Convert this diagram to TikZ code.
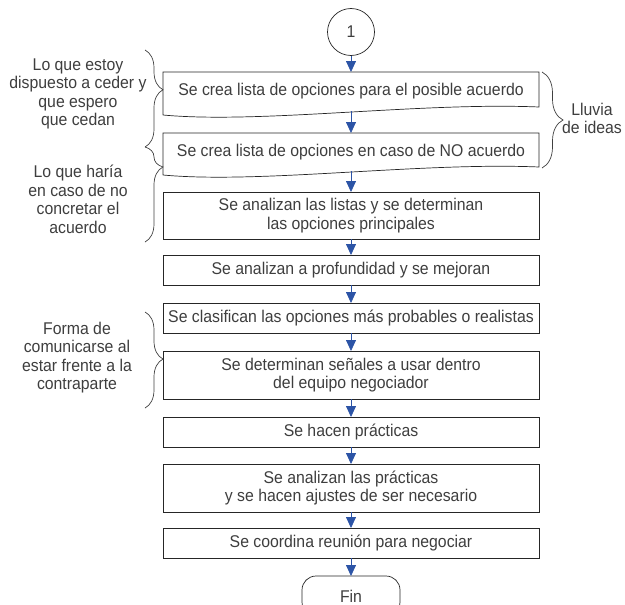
\documentclass[tikz,border=0pt]{standalone}
\usepackage{fontspec}
\setmainfont{Liberation Sans}[FakeStretch=0.93]
\usetikzlibrary{positioning, arrows.meta, decorations.pathreplacing}
\definecolor{flowblue}{RGB}{44,84,166}
\definecolor{txtgray}{RGB}{62,62,62}
\tikzstyle{process} = [rectangle, minimum width=376pt, minimum height=30pt, inner sep=1pt, outer sep=0pt, text centered, draw=black!85, line width=0.7pt, text=txtgray, font=\fontsize{17}{18.5}\selectfont]
\tikzstyle{listbox} = [process, draw=none, minimum height=39pt]
\tikzstyle{connector} = [circle, minimum size=47pt, inner sep=0pt, outer sep=0pt, draw=black!85, line width=0.7pt, text=txtgray, font=\fontsize{17}{18.5}\selectfont]
\tikzstyle{terminal} = [rectangle, rounded corners=14pt, minimum width=98pt, minimum height=40pt, inner sep=1pt, outer sep=0pt, draw=black!85, line width=0.7pt, text=txtgray, font=\fontsize{17}{18.5}\selectfont]
\tikzstyle{note} = [align=center, inner sep=0pt, text=txtgray, font=\fontsize{17}{18.5}\selectfont]
\tikzstyle{arrow} = [draw=flowblue, line width=0.8pt, -{Triangle[width=10pt,length=11pt]}]
\tikzstyle{bracket} = [decorate, draw=black!75, line width=0.7pt]

\begin{document}
\begin{tikzpicture}
[x=1pt, y=-1pt, node distance=17pt, nodes = {align = center},]
\useasboundingbox (0,0) rectangle (625,605);

\node (one) [connector] at (351,32) {1};
\node (list1) [listbox, below=16.5pt of one] {Se crea lista de opciones para el posible acuerdo};
\node (list2) [listbox, below=22pt of list1, minimum height=38pt] {Se crea lista de opciones en caso de NO acuerdo};
\node (analyze) [process, below=21pt of list2, minimum height=47pt] {Se analizan las listas y se determinan\\las opciones principales};
\node (improve) [process, below=16pt of analyze] {Se analizan a profundidad y se mejoran};
\node (classify) [process, below=18pt of improve] {Se clasifican las opciones más probables o realistas};
\node (signals) [process, below=18pt of classify, minimum height=48pt] {Se determinan señales a usar dentro\\del equipo negociador};
\node (practice) [process, below=18pt of signals] {Se hacen prácticas};
\node (adjust) [process, below=17pt of practice, minimum height=48pt] {Se analizan las prácticas\\y se hacen ajustes de ser necesario};
\node (meeting) [process, below=16pt of adjust] {Se coordina reunión para negociar};
\node (fin) [terminal, below=18pt of meeting] {Fin};

\draw [draw=black!85, line width=0.7pt] ([shift={(0,4)}]list1.south west) -- (list1.north west) -- (list1.north east) -- ([shift={(0,-4)}]list1.south east) .. controls ([shift={(69,-9)}]list1.south) and ([shift={(-91,13)}]list1.south) .. ([shift={(0,4)}]list1.south west);
\draw [draw=black!85, line width=0.7pt] ([shift={(0,4)}]list2.south west) -- (list2.north west) -- (list2.north east) -- ([shift={(0,-4)}]list2.south east) .. controls ([shift={(69,-9)}]list2.south) and ([shift={(-91,13)}]list2.south) .. ([shift={(0,4)}]list2.south west);

\draw [arrow] (one) -- (list1);
\draw [arrow] (list1) -- (list2);
\draw [arrow] (list2) -- (analyze);
\draw [arrow] (analyze) -- (improve);
\draw [arrow] (improve) -- (classify);
\draw [arrow] (classify) -- (signals);
\draw [arrow] (signals) -- (practice);
\draw [arrow] (practice) -- (adjust);
\draw [arrow] (adjust) -- (meeting);
\draw [arrow] (meeting) -- (fin);

\coordinate (cede top) at (145,50);
\coordinate (cede bot) at (145,147);
\coordinate (fail bot) at (145,242);
\coordinate (talk top) at (145,312);
\coordinate (talk bot) at (145,408);
\coordinate (rain top) at (542,72);
\coordinate (rain bot) at (542,168);

\draw [bracket, decoration={brace, amplitude=18pt, aspect=0.41}] (cede top) -- (cede bot);
\draw [bracket, decoration={brace, amplitude=18pt, aspect=0.21}] (cede bot) -- (fail bot);
\draw [bracket, decoration={brace, amplitude=18pt, aspect=0.49}] (talk top) -- (talk bot);
\draw [bracket, decoration={brace, amplitude=21pt, aspect=0.5}] (rain top) -- (rain bot);

\node (cede) [note] at (78,94) {Lo que estoy\\dispuesto a ceder y\\que espero\\que cedan};
\node (fail) [note] at (78,199.5) {Lo que haría\\en caso de no\\concretar el\\acuerdo};
\node (talk) [note] at (77,357.5) {Forma de\\comunicarse al\\estar frente a la\\contraparte};
\node (rain) [note] at (592,118.5) {Lluvia\\de ideas};
\end{tikzpicture}
\end{document}
